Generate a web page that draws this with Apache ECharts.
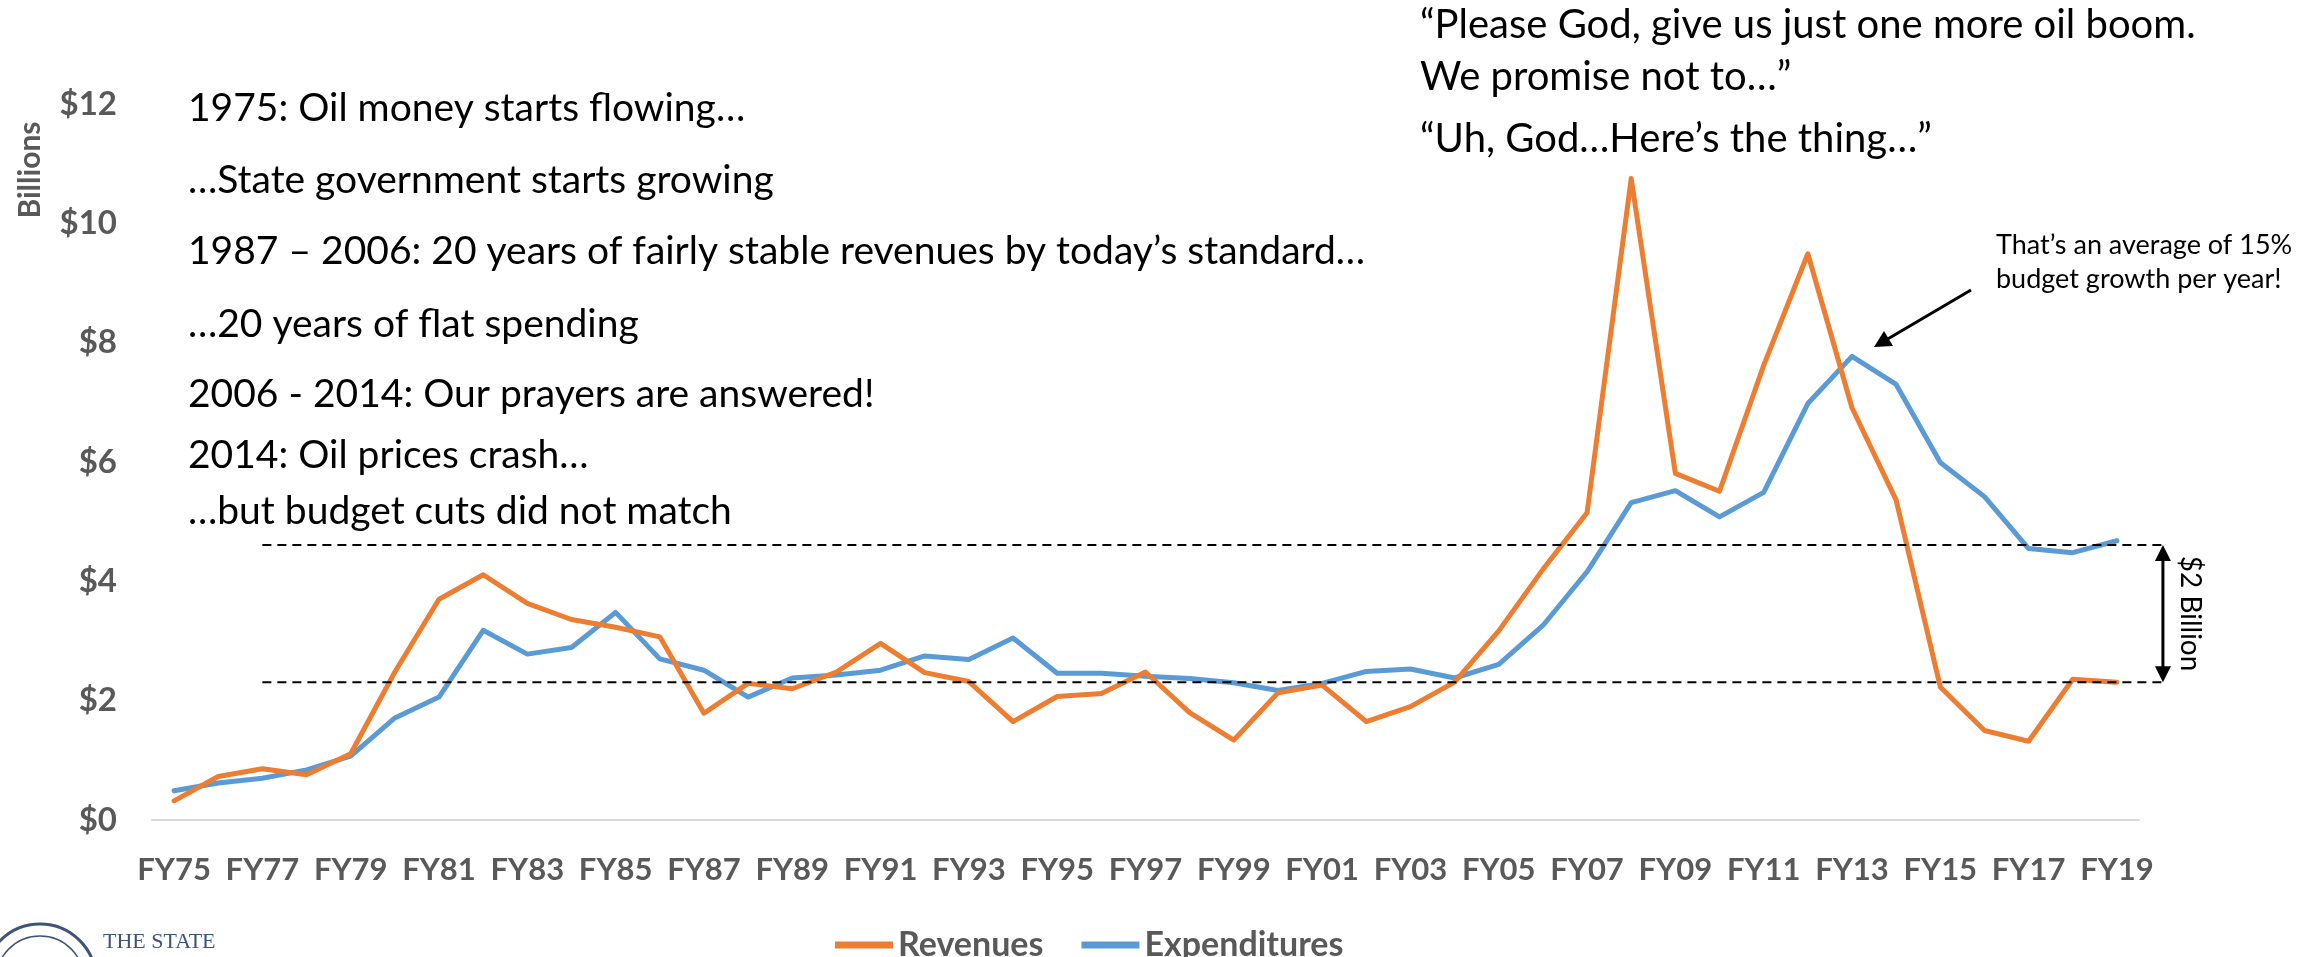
<!DOCTYPE html>
<html>
<head>
<meta charset="utf-8">
<title>Revenues vs Expenditures</title>
<script src="https://cdn.jsdelivr.net/npm/echarts@6/dist/echarts.min.js"></script>
<style>
  html, body { margin: 0; padding: 0; background: #fff; }
  #chart { width: 2316px; height: 957px; }
</style>
</head>
<body>
<div id="chart"></div>
<script>
const years = ['FY75', 'FY76', 'FY77', 'FY78', 'FY79', 'FY80', 'FY81', 'FY82', 'FY83', 'FY84',
  'FY85', 'FY86', 'FY87', 'FY88', 'FY89', 'FY90', 'FY91', 'FY92', 'FY93', 'FY94',
  'FY95', 'FY96', 'FY97', 'FY98', 'FY99', 'FY00', 'FY01', 'FY02', 'FY03', 'FY04',
  'FY05', 'FY06', 'FY07', 'FY08', 'FY09', 'FY10', 'FY11', 'FY12', 'FY13', 'FY14',
  'FY15', 'FY16', 'FY17', 'FY18', 'FY19']

// billions of dollars
const revenues = [0.32, 0.73, 0.86, 0.76, 1.11, 2.48, 3.70, 4.11, 3.63, 3.36,
  3.23, 3.07, 1.79, 2.29, 2.20, 2.48, 2.96, 2.47, 2.32, 1.65,
  2.07, 2.12, 2.48, 1.80, 1.34, 2.13, 2.26, 1.65, 1.90, 2.31,
  3.17, 4.20, 5.15, 10.75, 5.81, 5.51, 7.62, 9.49, 6.91, 5.36,
  2.23, 1.50, 1.32, 2.36, 2.31]

const expenditures = [0.49, 0.62, 0.70, 0.84, 1.07, 1.71, 2.06, 3.18, 2.78, 2.89,
  3.48, 2.70, 2.51, 2.06, 2.38, 2.43, 2.51, 2.75, 2.69, 3.05,
  2.46, 2.46, 2.41, 2.37, 2.30, 2.17, 2.29, 2.49, 2.53, 2.38,
  2.61, 3.26, 4.16, 5.32, 5.52, 5.08, 5.49, 6.98, 7.77, 7.30,
  5.99, 5.42, 4.55, 4.48, 4.68]

// the two dashed reference levels ($2 billion gap)
const gapLevels = [4.61, 2.31]

const storyLines = [
  '1975: Oil money starts flowing…',
  '…State government starts growing',
  '1987 – 2006: 20 years of fairly stable revenues by today’s standard…',
  '…20 years of flat spending',
  '2006 - 2014: Our prayers are answered!',
  '2014: Oil prices crash…',
  '…but budget cuts did not match',
]

const prayerLines = [
  '“Please God, give us just one more oil boom.',
  'We promise not to…”',
  '“Uh, God…Here’s the thing…”',
]

const FONT = 'Lato, "Noto Sans", sans-serif'
const GREY = '#595959'

const chart = echarts.init(document.getElementById('chart'))

chart.setOption({
  animation: false,
  grid: { left: 152, right: 177, top: 104, bottom: 137 },
  legend: {
    left: 830,
    top: 923,
    icon: 'rect',
    itemWidth: 58,
    itemHeight: 7,
    itemGap: 38,
    textStyle: { color: GREY, fontSize: 34, fontWeight: 'bold', fontFamily: FONT },
  },
  xAxis: {
    type: 'category',
    data: years,
    boundaryGap: true,
    axisTick: { show: false },
    axisLine: { lineStyle: { color: '#D9D9D9', width: 2 } },
    axisLabel: { interval: 1, margin: 34, color: GREY, fontSize: 31, fontWeight: 'bold', fontFamily: FONT },
  },
  yAxis: {
    type: 'value',
    min: 0,
    max: 12,
    interval: 2,
    splitLine: { show: false },
    axisLine: { show: false },
    axisTick: { show: false },
    axisLabel: { margin: 35, color: GREY, fontSize: 33, fontWeight: 'bold', fontFamily: FONT, formatter: '${value}' },
  },
  series: [
    {
      name: 'Revenues',
      type: 'line',
      data: revenues,
      symbol: 'none',
      color: '#ED7D31',
      lineStyle: { width: 5, cap: 'round', join: 'round' },
      z: 3,
    },
    {
      name: 'Expenditures',
      type: 'line',
      data: expenditures,
      symbol: 'none',
      color: '#5B9BD5',
      lineStyle: { width: 5, cap: 'round', join: 'round' },
      z: 2,
    },
  ],
})

// annotations are placed after the axes exist, so levels come from the scale
const xStart = chart.convertToPixel({ xAxisIndex: 0 }, 'FY77')
const xLast = chart.convertToPixel({ xAxisIndex: 0 }, 'FY19')
const xEnd = xLast + 46
const yTop = chart.convertToPixel({ yAxisIndex: 0 }, gapLevels[0])
const yBot = chart.convertToPixel({ yAxisIndex: 0 }, gapLevels[1])

const storyY = [108, 180, 251, 324, 394, 455, 511]
const prayerY = [25, 77, 139]

const graphics = []

graphics.push({
  type: 'text',
  x: 30,
  y: 170,
  rotation: Math.PI / 2,
  style: { text: 'Billions', fill: GREY, font: 'bold 30px ' + FONT, align: 'center', verticalAlign: 'middle' },
})

storyLines.forEach((t, i) => {
  graphics.push({
    type: 'text',
    x: 188,
    y: storyY[i],
    style: { text: t, fill: '#000', font: '39px ' + FONT, verticalAlign: 'middle' },
  })
})

prayerLines.forEach((t, i) => {
  graphics.push({
    type: 'text',
    x: 1420,
    y: prayerY[i],
    style: { text: t, fill: '#000', font: '40px ' + FONT, verticalAlign: 'middle' },
  })
})

graphics.push({
  type: 'text',
  x: 1996,
  y: 262,
  style: { text: 'That’s an average of 15%\nbudget growth per year!', fill: '#000', font: '27px ' + FONT, lineHeight: 34, verticalAlign: 'middle' },
})

// pointer arrow towards the FY13 spending peak
graphics.push({
  type: 'line',
  shape: { x1: 1971, y1: 290, x2: 1886, y2: 340 },
  style: { stroke: '#000', lineWidth: 3 },
})
graphics.push({
  type: 'polygon',
  shape: { points: [[1874, 347], [1884, 331], [1893, 346]] },
  style: { fill: '#000' },
})

// dashed levels
;[yTop, yBot].forEach((y) => {
  graphics.push({
    type: 'line',
    z: 10,
    shape: { x1: xStart, y1: y, x2: xEnd, y2: y },
    style: { stroke: '#000', lineWidth: 2, lineDash: [9, 6] },
  })
})

// double arrow with "$2 Billion"
graphics.push({
  type: 'line',
  shape: { x1: xEnd, y1: yTop + 12, x2: xEnd, y2: yBot - 12 },
  style: { stroke: '#000', lineWidth: 3 },
})
graphics.push({
  type: 'polygon',
  shape: { points: [[xEnd, yTop], [xEnd - 8, yTop + 16], [xEnd + 8, yTop + 16]] },
  style: { fill: '#000' },
})
graphics.push({
  type: 'polygon',
  shape: { points: [[xEnd, yBot], [xEnd - 8, yBot - 16], [xEnd + 8, yBot - 16]] },
  style: { fill: '#000' },
})
graphics.push({
  type: 'text',
  x: xEnd + 27,
  y: (yTop + yBot) / 2,
  rotation: -Math.PI / 2,
  style: { text: '$2 Billion', fill: '#000', font: '28px ' + FONT, align: 'center', verticalAlign: 'middle' },
})

// state seal, cut off at the bottom edge
graphics.push({
  type: 'circle',
  shape: { cx: 40, cy: 980, r: 56 },
  style: { fill: 'none', stroke: '#3E5378', lineWidth: 3 },
})
graphics.push({
  type: 'circle',
  shape: { cx: 40, cy: 980, r: 44 },
  style: { fill: 'none', stroke: '#3E5378', lineWidth: 1.5 },
})
graphics.push({
  type: 'text',
  x: 103,
  y: 942,
  style: { text: 'THE STATE', fill: '#3E5378', font: '22px "Liberation Serif", serif', verticalAlign: 'middle' },
})

chart.setOption({ graphic: graphics })
</script>
</body>
</html>
